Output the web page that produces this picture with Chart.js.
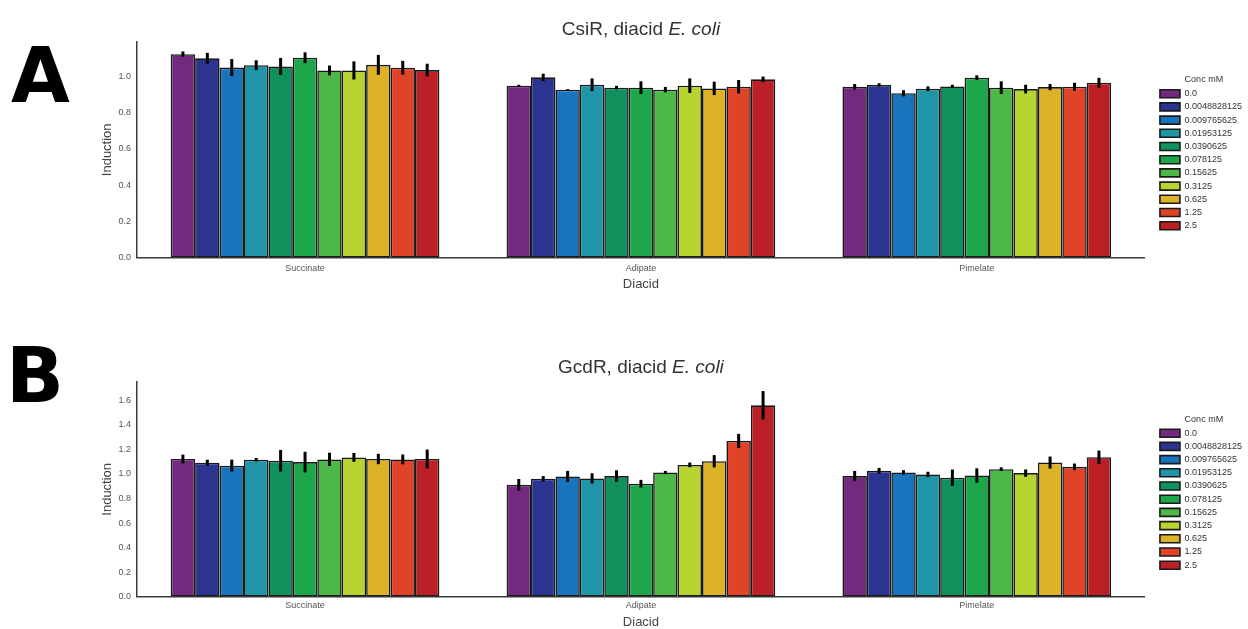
<!DOCTYPE html>
<html>
<head>
<meta charset="utf-8">
<title>CsiR / GcdR diacid induction</title>
<script src="https://cdn.jsdelivr.net/npm/chart.js@4.4.0/dist/chart.umd.min.js"></script>
<style>
  body { margin: 0; background: #fff; width: 1248px; height: 629px; overflow: hidden; position: relative; }
  .panel { position: absolute; left: 100px; width: 1154px; }
  #wrapA { top: 0; height: 300px; }
  #wrapB { top: 330px; height: 300px; }
  .letter { position: absolute; font-family: "DejaVu Sans", sans-serif; font-weight: bold; font-size: 76px; line-height: 76px; color: #000; }
</style>
</head>
<body>
<div class="letter" style="left:11px;top:38px">A</div>
<div class="letter" style="left:6px;top:338px">B</div>
<div class="panel" id="wrapA"><canvas id="chartA"></canvas></div>
<div class="panel" id="wrapB"><canvas id="chartB"></canvas></div>

<script>
// Categories and concentrations
const diacids = ["Succinate", "Adipate", "Pimelate"];
const concLabels = ["0.0", "0.0048828125", "0.009765625", "0.01953125", "0.0390625",
  "0.078125", "0.15625", "0.3125", "0.625", "1.25", "2.5"];
const concColors = ["#722a7e", "#2b3591", "#1a74bc", "#2095a8", "#10915e",
  "#1ea64a", "#4db848", "#b8d433", "#dcb226", "#e04428", "#bb2026"];

// Panel A: CsiR (mean induction and error, one entry per concentration)
const csirSuccinate = [1.123, 1.100, 1.049, 1.062, 1.055, 1.103, 1.033, 1.033, 1.064, 1.048, 1.035];
const csirSuccinateErr = [0.015, 0.030, 0.047, 0.027, 0.047, 0.030, 0.027, 0.050, 0.055, 0.038, 0.035];
const csirAdipate = [0.949, 0.995, 0.927, 0.954, 0.938, 0.938, 0.927, 0.949, 0.934, 0.943, 0.984];
const csirAdipateErr = [0.005, 0.020, 0.003, 0.035, 0.010, 0.035, 0.015, 0.040, 0.037, 0.037, 0.015];
const csirPimelate = [0.943, 0.953, 0.907, 0.932, 0.945, 0.993, 0.938, 0.930, 0.941, 0.943, 0.965];
const csirPimelateErr = [0.015, 0.009, 0.017, 0.013, 0.009, 0.013, 0.035, 0.024, 0.017, 0.022, 0.027];

// Panel B: GcdR
const gcdrSuccinate = [1.122, 1.092, 1.068, 1.116, 1.108, 1.097, 1.119, 1.135, 1.122, 1.119, 1.122];
const gcdrSuccinateErr = [0.036, 0.024, 0.049, 0.015, 0.088, 0.084, 0.054, 0.036, 0.042, 0.040, 0.077];
const gcdrAdipate = [0.912, 0.961, 0.980, 0.964, 0.983, 0.921, 1.012, 1.074, 1.104, 1.269, 1.560];
const gcdrAdipateErr = [0.047, 0.022, 0.045, 0.042, 0.047, 0.031, 0.013, 0.019, 0.050, 0.058, 0.116];
const gcdrPimelate = [0.983, 1.026, 1.012, 0.996, 0.969, 0.988, 1.039, 1.007, 1.093, 1.058, 1.137];
const gcdrPimelateErr = [0.042, 0.023, 0.019, 0.022, 0.067, 0.058, 0.015, 0.030, 0.049, 0.027, 0.054];

const FONT = "'Liberation Sans', Arial, sans-serif";

// draws the vertical error bars on top of each bar
const errorBars = {
  id: "errorBars",
  afterDatasetsDraw(chart) {
    const ctx = chart.ctx;
    const y = chart.scales.y;
    ctx.save();
    ctx.strokeStyle = "#000";
    ctx.lineWidth = 3;
    chart.data.datasets.forEach((ds, i) => {
      const meta = chart.getDatasetMeta(i);
      meta.data.forEach((bar, j) => {
        const v = ds.data[j], e = ds.errors[j];
        ctx.beginPath();
        ctx.moveTo(bar.x, y.getPixelForValue(v - e));
        ctx.lineTo(bar.x, y.getPixelForValue(v + e));
        ctx.stroke();
      });
    });
    ctx.restore();
  }
};

// title with an italic species name
const mixedTitle = {
  id: "mixedTitle",
  afterDraw(chart, args, opts) {
    const ctx = chart.ctx;
    const area = chart.chartArea;
    const size = 19;
    ctx.save();
    ctx.fillStyle = "#333";
    ctx.textBaseline = "middle";
    ctx.font = size + "px " + FONT;
    const w1 = ctx.measureText(opts.main).width;
    ctx.font = "italic " + size + "px " + FONT;
    const w2 = ctx.measureText(opts.italic).width;
    const x = (area.left + area.right) / 2 - (w1 + w2) / 2;
    ctx.font = size + "px " + FONT;
    ctx.fillText(opts.main, x, opts.y);
    ctx.font = "italic " + size + "px " + FONT;
    ctx.fillText(opts.italic, x + w1, opts.y);
    ctx.restore();
  }
};

function buildDatasets(rows, errs) {
  return concLabels.map((label, i) => ({
    label: label,
    data: rows.map(r => r[i]),
    errors: errs.map(r => r[i]),
    backgroundColor: concColors[i],
    borderColor: "#1a1a1a",
    borderWidth: 1.6,
    borderSkipped: false,
    categoryPercentage: 0.8,
    barPercentage: 1.0
  }));
}

function makeChart(el, mainTitle, rows, errs, yMax, padTop, padBottom, titleY, tickPad, xTitlePad) {
  return new Chart(el, {
    type: "bar",
    data: { labels: diacids, datasets: buildDatasets(rows, errs) },
    plugins: [errorBars, mixedTitle],
    options: {
      responsive: true,
      maintainAspectRatio: false,
      animation: false,
      layout: { padding: { top: padTop, bottom: padBottom, left: 0, right: 2 } },
      scales: {
        x: {
          grid: { display: false, drawTicks: false },
          border: { display: true, color: "#3a3a3a", width: 1.5 },
          ticks: { font: { size: 9, family: FONT }, color: "#555", padding: tickPad },
          title: { display: true, text: "Diacid", font: { size: 13, family: FONT }, color: "#444", padding: { top: xTitlePad, bottom: 0 } }
        },
        y: {
          min: 0,
          max: yMax,
          grid: { display: false, drawTicks: false },
          border: { display: true, color: "#3a3a3a", width: 1.5 },
          ticks: { stepSize: 0.2, includeBounds: false, callback: v => v.toFixed(1),
            font: { size: 9, family: FONT }, color: "#555", padding: 6 },
          title: { display: true, text: "Induction", font: { size: 13, family: FONT }, color: "#444", padding: { top: 0, bottom: -3 } }
        },
        gap: {
          type: "linear",
          axis: "y",
          position: "right",
          grid: { display: false, drawTicks: false },
          border: { display: false },
          ticks: { display: false },
          afterFit: s => { s.width = 11; }
        }
      },
      plugins: {
        legend: {
          position: "right",
          fullSize: false,
          title: { display: true, text: "Conc mM", font: { size: 9, family: FONT }, color: "#333", padding: { top: 10, bottom: -1 } },
          labels: { boxWidth: 20, boxHeight: 8, font: { size: 9, family: FONT }, color: "#333", padding: 4.2 }
        },
        tooltip: { enabled: false },
        mixedTitle: { main: mainTitle, italic: "E. coli", y: titleY }
      }
    }
  });
}

const chartA = makeChart(document.getElementById("chartA"), "CsiR, diacid ",
  [csirSuccinate, csirAdipate, csirPimelate],
  [csirSuccinateErr, csirAdipateErr, csirPimelateErr], 1.19, 42, 8, 30, 6, -4);

const chartB = makeChart(document.getElementById("chartB"), "GcdR, diacid ",
  [gcdrSuccinate, gcdrAdipate, gcdrPimelate],
  [gcdrSuccinateErr, gcdrAdipateErr, gcdrPimelateErr], 1.75, 52, 0, 38, 4, -1);
</script>
</body>
</html>
